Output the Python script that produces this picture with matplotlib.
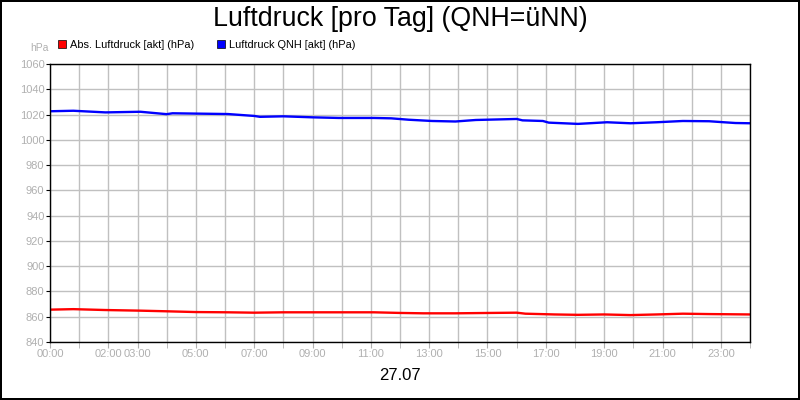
import numpy as np
import matplotlib
matplotlib.use('Agg')
import matplotlib.pyplot as plt
from matplotlib.lines import Line2D

plt.rcParams['font.family'] = ['Liberation Sans', 'DejaVu Sans']

qnh_h = [0.0, 0.8, 1.9, 3.1, 4.0, 4.2, 6.1, 7.0, 7.2, 8.0, 9.0, 9.9, 11.1, 11.7,
         12.3, 13.1, 13.9, 14.6, 16.0, 16.2, 16.9, 17.1, 18.1, 19.1, 19.9,
         20.8, 21.7, 22.6, 23.1, 23.5, 24.0]
qnh = [1022.6, 1023.0, 1021.7, 1022.2, 1020.3, 1021.0, 1020.4, 1018.9, 1018.2,
       1018.6, 1017.8, 1017.3, 1017.3, 1017.0, 1015.9, 1014.9, 1014.5, 1015.7,
       1016.5, 1015.4, 1014.9, 1013.6, 1012.6, 1013.9, 1013.1, 1013.9, 1014.9,
       1014.7, 1013.9, 1013.3, 1013.1]

abs_h = [0.0, 0.8, 1.9, 3.1, 4.0, 5.0, 6.1, 7.0, 8.0, 9.0, 9.9, 11.1, 12.0,
         12.8, 13.9, 15.1, 16.0, 16.3, 17.3, 18.1, 19.0, 19.9, 20.8, 21.7,
         22.6, 24.0]
abs_p = [865.6, 866.0, 865.3, 864.8, 864.3, 863.7, 863.5, 863.2, 863.5, 863.5,
         863.5, 863.5, 863.0, 862.7, 862.7, 863.0, 863.2, 862.4, 861.8, 861.5,
         861.8, 861.3, 861.8, 862.4, 862.1, 861.8]

tick_hours = [0, 2, 3, 5, 7, 9, 11, 13, 15, 17, 19, 21, 23]
tick_labels = ['%02d:00' % h for h in tick_hours]
day_label = '27.07'

fig = plt.figure(figsize=(8, 4), dpi=100, linewidth=1.5, edgecolor='black')
ax = fig.add_axes([0.0625, 0.145, 0.875, 0.695])

ax.plot(abs_h, abs_p, color='#ff0000', lw=1.7, solid_joinstyle='round')
ax.plot(qnh_h, qnh, color='#0000ff', lw=1.7, solid_joinstyle='round')

ax.set_xlim(0, 24)
ax.set_ylim(840, 1060)
ax.set_yticks(np.arange(840, 1061, 20))
ax.set_xticks(np.arange(0, 25, 1), minor=True)
ax.set_xticks(tick_hours)
ax.set_xticklabels(tick_labels)
ax.grid(True, which='both', color='#c0c0c0', lw=1)
ax.set_axisbelow(True)

ax.tick_params(axis='x', which='both', length=4, color='#b0b0b0',
               labelcolor='#b0b0b0', labelsize=8, pad=1)
ax.tick_params(axis='y', length=3, color='black', labelcolor='#b0b0b0',
               labelsize=8, pad=1)
for s in ax.spines.values():
    s.set_linewidth(1)
    s.set_color('black')

fig.text(0.5, 0.953, 'Luftdruck [pro Tag] (QNH=üNN)', ha='center', va='center',
         fontsize=19.3)
fig.text(0.5, 0.06, day_label, ha='center', va='center', fontsize=12)
fig.text(0.049, 0.88, 'hPa', ha='center', va='center', fontsize=7.5,
         color='#b0b0b0')

handles = [Line2D([], [], marker='s', ls='none', markersize=6,
                  markerfacecolor='#ff0000', markeredgecolor='black', markeredgewidth=0.5),
           Line2D([], [], marker='s', ls='none', markersize=6,
                  markerfacecolor='#0000ff', markeredgecolor='black', markeredgewidth=0.5)]
fig.legend(handles, ['Abs. Luftdruck [akt] (hPa)', 'Luftdruck QNH [akt] (hPa)'],
           loc='center left', bbox_to_anchor=(0.072, 0.888), ncol=2, frameon=False,
           fontsize=7.9, handlelength=0.8, handletextpad=0.3, columnspacing=2.1,
           borderpad=0, borderaxespad=0)

fig.savefig('out.png', dpi=100)
